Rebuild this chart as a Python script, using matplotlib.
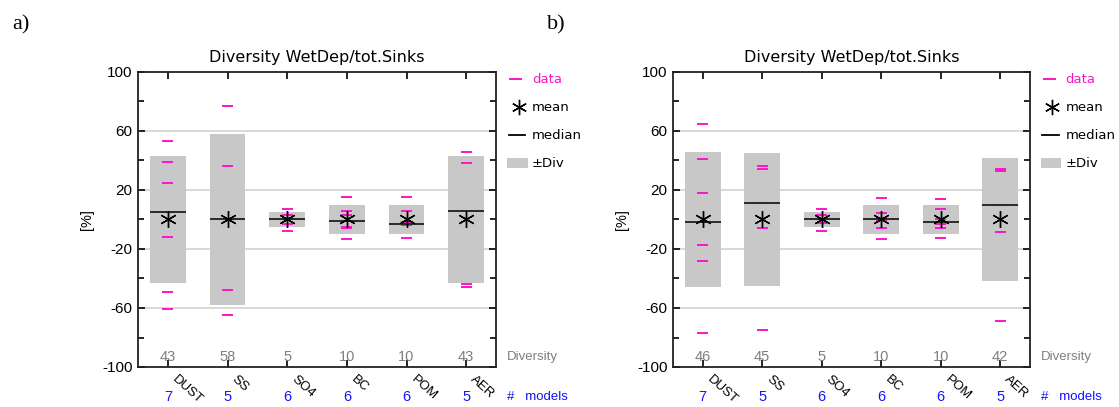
import numpy as np
import matplotlib
matplotlib.use("Agg")
import matplotlib.pyplot as plt
from matplotlib.transforms import blended_transform_factory
from matplotlib.patches import Rectangle
from matplotlib.lines import Line2D

species = ["DUST", "SS", "SO4", "BC", "POM", "AER"]

# deviation of each model from the multi-model mean [%]
data_a = [
    [53, 39, 25, 5, -12, -49, -61],
    [77, 36, 0, -48, -65],
    [7, 3, 1, 0, -3, -8],
    [15, 5.5, 3, -5, -5.5, -13],
    [15.5, 6, -2, -3.5, -3.5, -12.5],
    [46, 38, 6, -44, -46],
]
data_b = [
    [65, 41, 18, -2, -17, -28, -77],
    [36, 34, 11, -6, -75],
    [7, 3, 0.5, 0, -2.5, -8],
    [14.5, 4.5, 1, -0.5, -6, -13.5],
    [14, 7, 0, -3, -5.5, -12.5],
    [34.5, 33, 10, -8.5, -69],
]
diversity_a = [43, 58, 5, 10, 10, 43]
diversity_b = [46, 45, 5, 10, 10, 42]
models_a = [7, 5, 6, 6, 6, 5]
models_b = [7, 5, 6, 6, 6, 5]

title = "Diversity WetDep/tot.Sinks"
major_ticks = [-100, -60, -20, 20, 60, 100]
minor_ticks = [-80, -40, 0, 40, 80]

MAGENTA = "#ff14c8"
BOXGRAY = "#c8c8c8"
TXTGRAY = "#7f7f7f"
BLUE = "#1414ff"
SANS = "Liberation Sans"

W, H = 1119, 407
fig = plt.figure(figsize=(W / 100, H / 100), dpi=100)


def px_axes(left, right, top, bottom):
    return fig.add_axes([left / W, 1 - bottom / H, (right - left) / W, (bottom - top) / H])


def panel(ax, data, div, nmod):
    x = np.arange(1, len(species) + 1)
    ax.set_xlim(0.5, len(species) + 0.5)
    ax.set_ylim(-100, 100)
    for g in [-60, -20, 20, 60]:
        ax.axhline(g, color="#d6d6d6", lw=1.3, zorder=0)
    bw = 0.6
    for xi, vals, d in zip(x, data, div):
        vals = np.asarray(vals, float)
        m = vals.mean()
        med = np.median(vals)
        ax.add_patch(Rectangle((xi - bw / 2, m - d), bw, 2 * d, facecolor=BOXGRAY,
                               edgecolor="none", zorder=1))
        ax.hlines(vals, xi - 0.09, xi + 0.09, color=MAGENTA, lw=1.4, zorder=2)
        ax.hlines(med, xi - bw / 2, xi + bw / 2, color="#2a2a2a", lw=1.4, zorder=3)
        ax.plot([xi], [m], marker=(6, 2, 0), ms=12, mew=1.0, color="black", zorder=4)

    ax.set_yticks(major_ticks)
    ax.set_yticks(minor_ticks, minor=True)
    ax.set_yticklabels([str(t) for t in major_ticks], fontsize=11, family=SANS)
    ax.set_xticks(x)
    ax.set_xticklabels([])
    ax.tick_params(axis="y", which="both", direction="in", left=True, right=True,
                   width=1.2, pad=4)
    ax.tick_params(axis="y", which="major", length=5)
    ax.tick_params(axis="y", which="minor", length=4)
    ax.tick_params(axis="x", which="both", direction="in", top=True, bottom=True,
                   length=5, width=1.2)
    for s in ax.spines.values():
        s.set_linewidth(1.3)
        s.set_color("#222222")

    ax.set_title(title, fontsize=11.5, family="DejaVu Sans", pad=7)
    ax.set_ylabel("[%]", fontsize=10.5, family=SANS, labelpad=6)

    tr = blended_transform_factory(ax.transData, ax.transAxes)
    for xi, name, d, n in zip(x, species, div, nmod):
        ax.text(xi, 0.035, str(d), transform=tr, ha="center", va="center",
                fontsize=10.5, color=TXTGRAY, family=SANS)
        ax.text(xi + 0.1, -0.036, name, transform=tr, ha="left", va="center",
                rotation=-42, rotation_mode="anchor", fontsize=9.5, family=SANS)
        ax.text(xi, -0.102, str(n), transform=tr, ha="center", va="center",
                fontsize=10.5, color=BLUE, family=SANS)
    ax.text(1.03, 0.035, "Diversity", transform=ax.transAxes, ha="left", va="center",
            fontsize=9.5, color=TXTGRAY, family=SANS)
    ax.text(1.03, -0.102, "#   models", transform=ax.transAxes, ha="left", va="center",
            fontsize=9.5, color=BLUE, family=SANS)

    # legend drawn beside the frame
    lx = 1.045
    ly = [0.975, 0.88, 0.785, 0.69]
    leg = dict(transform=ax.transAxes, clip_on=False)
    fs = 9.5
    ax.add_line(Line2D([lx - 0.005, lx + 0.025], [ly[0]] * 2, color=MAGENTA, lw=1.4, **leg))
    ax.text(lx + 0.055, ly[0], "data", color=MAGENTA, va="center", fontsize=fs,
            family="DejaVu Sans", transform=ax.transAxes)
    ax.plot([lx + 0.018], [ly[1]], marker=(6, 2, 0), ms=11, mew=1.0, color="black", **leg)
    ax.text(lx + 0.055, ly[1], "mean", va="center", fontsize=fs, family="DejaVu Sans",
            transform=ax.transAxes)
    ax.add_line(Line2D([lx - 0.01, lx + 0.035], [ly[2]] * 2, color="black", lw=1.3, **leg))
    ax.text(lx + 0.055, ly[2], "median", va="center", fontsize=fs, family="DejaVu Sans",
            transform=ax.transAxes)
    ax.add_patch(Rectangle((lx - 0.015, ly[3] - 0.017), 0.058, 0.034, facecolor=BOXGRAY,
                           edgecolor="none", transform=ax.transAxes, clip_on=False))
    ax.text(lx + 0.055, ly[3], "\u00b1Div", va="center", fontsize=fs, family="DejaVu Sans",
            transform=ax.transAxes)


ax_a = px_axes(138, 496, 72, 367)
ax_b = px_axes(673, 1030, 72, 367)
panel(ax_a, data_a, diversity_a, models_a)
panel(ax_b, data_b, diversity_b, models_b)

fig.text(12 / W, 1 - 25 / H, "a)", fontsize=16, family="Liberation Serif", va="center")
fig.text(547 / W, 1 - 25 / H, "b)", fontsize=16, family="Liberation Serif", va="center")

fig.savefig("out.png", dpi=100)
